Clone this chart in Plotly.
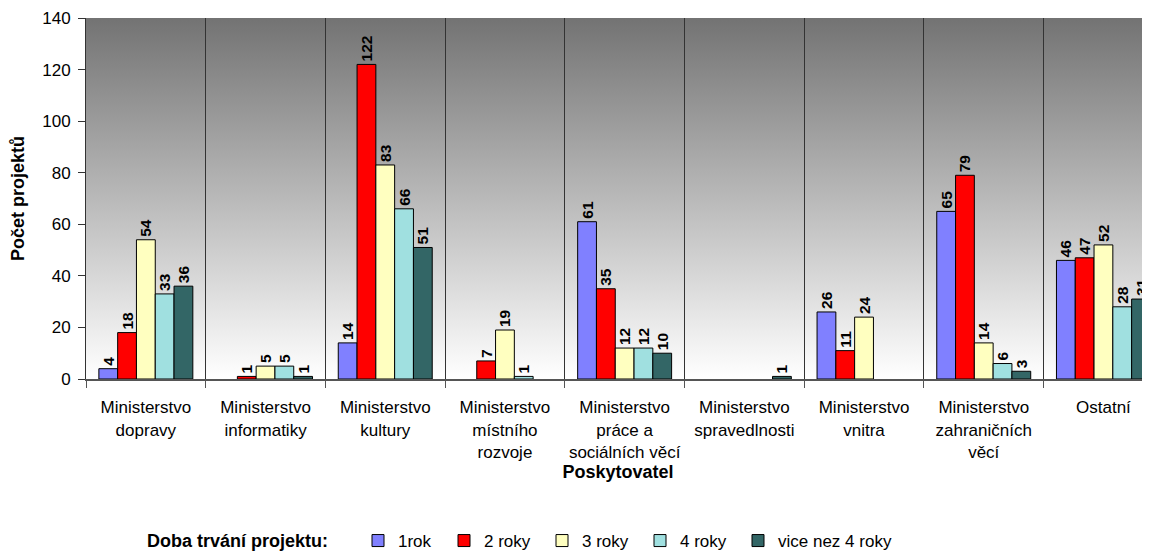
import base64
import plotly.graph_objects as go

categories = [
    "Ministerstvo<br>dopravy",
    "Ministerstvo<br>informatiky",
    "Ministerstvo<br>kultury",
    "Ministerstvo<br>místního<br>rozvoje",
    "Ministerstvo<br>práce a<br>sociálních věcí",
    "Ministerstvo<br>spravedlnosti",
    "Ministerstvo<br>vnitra",
    "Ministerstvo<br>zahraničních<br>věcí",
    "Ostatní",
]

rok1 = [4, None, 14, None, 61, None, 26, 65, 46]
roky2 = [18, 1, 122, 7, 35, None, 11, 79, 47]
roky3 = [54, 5, 83, 19, 12, None, 24, 14, 52]
roky4 = [33, 5, 66, 1, 12, None, None, 6, 28]
vice4 = [36, 1, 51, None, 10, 1, None, 3, 31]

series_names = ["1rok", "2 roky", "3 roky", "4 roky", "vice nez 4 roky"]
series_values = [rok1, roky2, roky3, roky4, vice4]
series_colors = ["#8080FF", "#FF0000", "#FFFFC0", "#A0E0E0", "#336666"]
legend_entry_widths = [41, 53, 53, 53, 140]

y_ticks = [0, 20, 40, 60, 80, 100, 120, 140]

FONT = "Arial, Liberation Sans, sans-serif"

# page is drawn with an 8px body margin, so the figure is sized/offset to compensate
W, H = 1142, 543
ML, MT, MB = 78, 10, 172
plot_h = H - MT - MB

fig = go.Figure()
for name, vals, col, lw in zip(series_names, series_values, series_colors, legend_entry_widths):
    fig.add_trace(go.Bar(
        x=categories, y=vals, name=name, legendwidth=lw,
        marker=dict(color=col, line=dict(color="#000000", width=1)),
        text=[("" if v is None else str(v)) for v in vals],
        textposition="outside", textangle=-90,
        textfont=dict(family=FONT, size=15.5, color="#000000", weight="bold"),
        cliponaxis=False, constraintext="none",
        hoverinfo="skip",
    ))

svg = ('<svg xmlns="http://www.w3.org/2000/svg" width="100" height="100" preserveAspectRatio="none">'
       '<defs><linearGradient id="g" x1="0" y1="0" x2="0" y2="1">'
       '<stop offset="0" stop-color="#737373"/><stop offset="1" stop-color="#ffffff"/>'
       '</linearGradient></defs><rect width="100" height="100" fill="url(#g)"/></svg>')
src = "data:image/svg+xml;base64," + base64.b64encode(svg.encode()).decode()

legend_y_px = 533
fig.update_layout(
    width=W, height=H,
    margin=dict(l=ML, r=0, t=MT, b=MB, autoexpand=False),
    paper_bgcolor="#ffffff", plot_bgcolor="rgba(0,0,0,0)",
    font=dict(family=FONT, size=17, color="#000000"),
    barmode="group", bargap=0.215, bargroupgap=0,
    images=[dict(source=src, xref="paper", yref="paper", x=0, y=1, sizex=1, sizey=1,
                 xanchor="left", yanchor="top", sizing="stretch", layer="below")],
    showlegend=True,
    legend=dict(
        orientation="h", xref="container", yref="container",
        x=350 / W, xanchor="left", y=1 - legend_y_px / H, yanchor="middle",
        font=dict(family=FONT, size=17),
        itemwidth=30,
        bgcolor="rgba(0,0,0,0)",
    ),
    annotations=[dict(
        text="<b>Doba trvání projektu:</b>", xref="paper", yref="paper",
        x=(137 - ML) / (W - ML), y=(H - MB - legend_y_px) / plot_h,
        xanchor="left", yanchor="middle", showarrow=False,
        font=dict(family=FONT, size=18, color="#000000"),
    )],
)

fig.update_xaxes(
    range=[-0.5, 8.389], type="category", tickangle=0,
    tickson="boundaries", ticks="outside", ticklen=7, tickcolor="#555555",
    showgrid=True, gridcolor="#333333", gridwidth=1,
    showline=True, linecolor="#555555", linewidth=2,
    tickfont=dict(family=FONT, size=17), ticklabelstandoff=12,
    title=dict(text="<b>Poskytovatel</b>", font=dict(family=FONT, size=18), standoff=0),
    automargin=False, fixedrange=True,
)
fig.update_yaxes(
    range=[0, 140], tickvals=y_ticks, ticks="outside", ticklen=7, tickcolor="#333333",
    showgrid=False, zeroline=False,
    showline=True, linecolor="#333333", linewidth=1,
    tickfont=dict(family=FONT, size=17), ticklabelstandoff=4,
    title=dict(text="<b>Počet projektů</b>", font=dict(family=FONT, size=18), standoff=14),
    automargin=False, fixedrange=True,
)

fig.write_html("out.html", config={"displayModeBar": False})
